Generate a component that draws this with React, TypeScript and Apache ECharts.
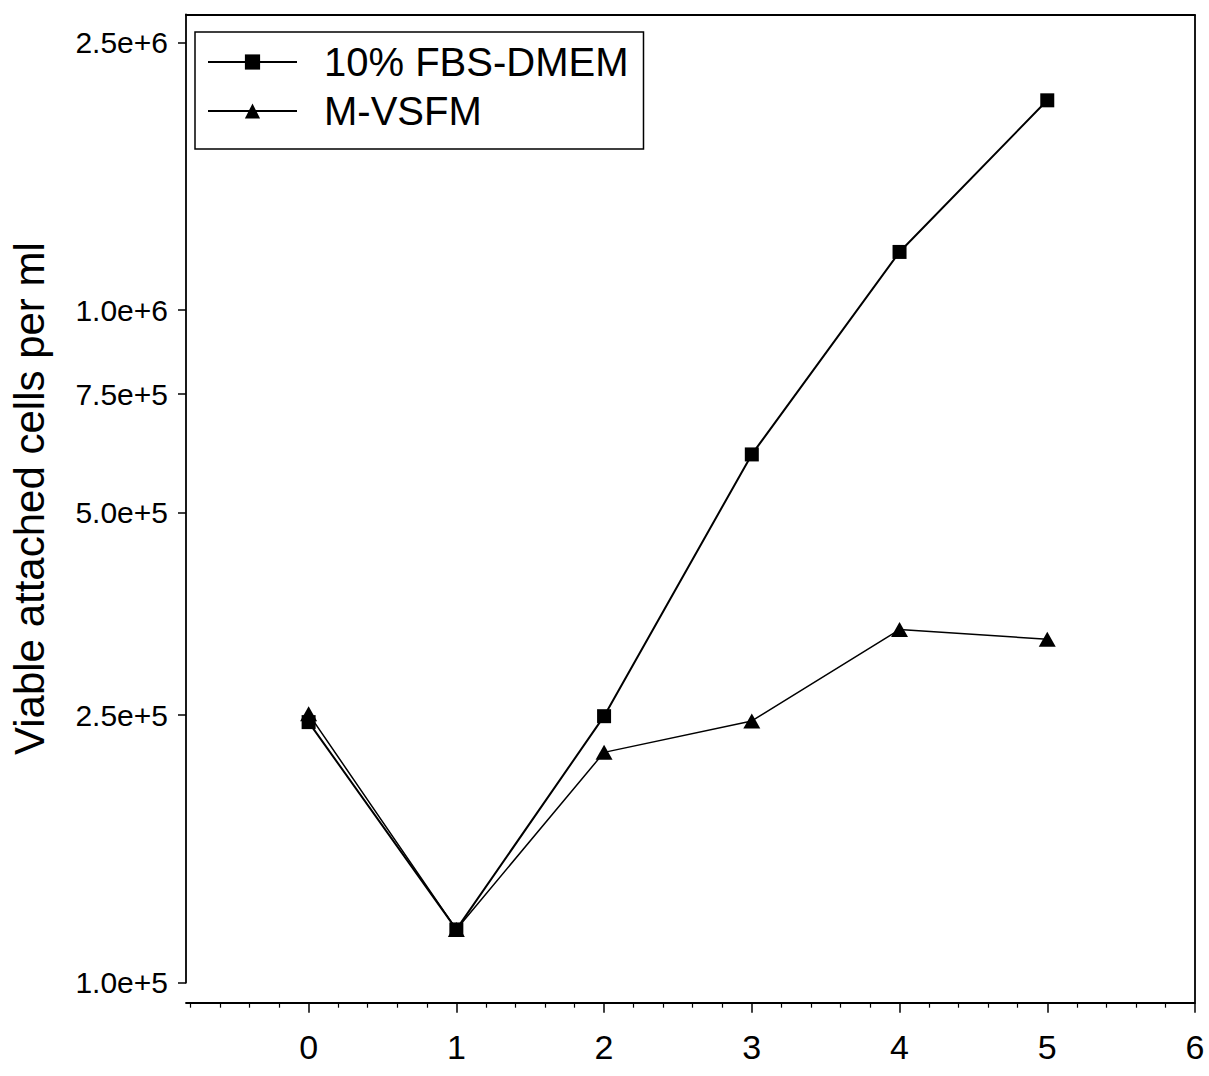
import React, { useEffect, useRef } from "react";
import * as echarts from "echarts";

// Culture day (x) and viable attached cell counts per ml (y, log scale)
const days = [0, 1, 2, 3, 4, 5];
const fbsDmem = [2.44e5, 1.2e5, 2.49e5, 6.1e5, 1.22e6, 2.05e6];
const mVsfm = [2.51e5, 1.2e5, 2.2e5, 2.45e5, 3.35e5, 3.24e5];

const seriesNames = ["10% FBS-DMEM", "M-VSFM"];
const yTickValues = [1e5, 2.5e5, 5e5, 7.5e5, 1e6, 2.5e6];
const xTickValues = [0, 1, 2, 3, 4, 5, 6];
const yAxisTitle = "Viable attached cells per ml";

const X_MIN = -0.83;
const X_MAX = 6;
const Y_MIN = 1e5;
const Y_MAX = 2.75e6;
const X_AXIS_OFFSET = 20;

const FONT = "'Liberation Sans', Arial, Helvetica, sans-serif";

// minor ticks every 0.2 between the integer ticks
const xMinorValues: number[] = [];
for (let i = -4; i <= 29; i++) {
  if (i % 5 !== 0) xMinorValues.push(Math.round(i * 2) / 10);
}

const sci = (v: number) => {
  const e = Math.floor(Math.log10(v) + 1e-9);
  const m = v / Math.pow(10, e);
  return `${m.toFixed(1)}e+${e}`;
};

export default function App() {
  const ref = useRef<HTMLDivElement>(null);

  useEffect(() => {
    if (!ref.current) return;
    const chart = echarts.init(ref.current, null, { renderer: "svg" });
    const black = "#000";

    chart.setOption({
      animation: false,
      backgroundColor: "#fff",
      grid: { left: 184, right: 14, top: 14.5, bottom: 93.3, containLabel: false },
      legend: {
        left: 195,
        top: 32,
        orient: "vertical",
        data: seriesNames,
        itemWidth: 89,
        itemHeight: 19,
        itemGap: 9,
        borderColor: black,
        borderWidth: 1.5,
        padding: [10, 15, 18, 12],
        backgroundColor: "#fff",
        textStyle: {
          fontFamily: FONT,
          fontSize: 40,
          lineHeight: 40,
          color: black,
          padding: [0, 0, 0, 22],
        },
      },
      xAxis: [
        {
          type: "value",
          min: X_MIN,
          max: X_MAX,
          position: "bottom",
          offset: X_AXIS_OFFSET,
          splitLine: { show: false },
          axisLine: { show: true, onZero: false, lineStyle: { color: black, width: 1.8 } },
          axisTick: {
            show: true,
            customValues: xTickValues,
            length: 10,
            lineStyle: { color: black, width: 1.5 },
          },
          axisLabel: {
            customValues: xTickValues,
            margin: 27,
            fontFamily: FONT,
            fontSize: 34,
            color: black,
            formatter: (v: number) => String(v),
          },
        },
        {
          // short minor ticks along the same bottom axis
          type: "value",
          min: X_MIN,
          max: X_MAX,
          position: "bottom",
          offset: X_AXIS_OFFSET,
          splitLine: { show: false },
          axisLine: { show: false, onZero: false },
          axisTick: {
            show: true,
            customValues: xMinorValues,
            length: 5,
            lineStyle: { color: black, width: 1.2 },
          },
          axisLabel: { show: false },
        },
        {
          // top frame line
          type: "value",
          min: X_MIN,
          max: X_MAX,
          position: "top",
          splitLine: { show: false },
          axisLine: { show: true, onZero: false, lineStyle: { color: black, width: 1.8 } },
          axisTick: { show: false },
          axisLabel: { show: false },
        },
      ],
      yAxis: [
        {
          type: "log",
          logBase: 10,
          min: Y_MIN,
          max: Y_MAX,
          position: "left",
          splitLine: { show: false },
          axisLine: { show: true, onZero: false, lineStyle: { color: black, width: 1.8 } },
          axisTick: {
            show: true,
            customValues: yTickValues,
            length: 8,
            lineStyle: { color: black, width: 1.5 },
          },
          axisLabel: {
            customValues: yTickValues,
            margin: 18,
            fontFamily: FONT,
            fontSize: 30,
            color: black,
            formatter: (v: number) => sci(v),
          },
          name: yAxisTitle,
          nameLocation: "middle",
          nameRotate: 90,
          nameGap: 136,
          nameTextStyle: { fontFamily: FONT, fontSize: 42, color: black },
        },
      ],
      series: [
        {
          name: seriesNames[0],
          type: "line",
          xAxisIndex: 0,
          yAxisIndex: 0,
          data: days.map((d, i) => [d, fbsDmem[i]]),
          symbol: "rect",
          symbolSize: 14,
          lineStyle: { color: black, width: 2 },
          itemStyle: { color: black },
          z: 3,
        },
        {
          name: seriesNames[1],
          type: "line",
          xAxisIndex: 0,
          yAxisIndex: 0,
          data: days.map((d, i) => [d, mVsfm[i]]),
          symbol: "triangle",
          symbolSize: [17, 15],
          lineStyle: { color: black, width: 1.5 },
          itemStyle: { color: black },
          z: 2,
        },
      ],
    });

    // right frame line, from the top of the plot down to the offset x axis
    const xRight = chart.convertToPixel({ xAxisIndex: 0 }, X_MAX) as number;
    const yTop = chart.convertToPixel({ yAxisIndex: 0 }, Y_MAX) as number;
    const yBottom = (chart.convertToPixel({ yAxisIndex: 0 }, Y_MIN) as number) + X_AXIS_OFFSET;
    chart.setOption({
      graphic: [
        {
          type: "line",
          shape: { x1: xRight, y1: yTop, x2: xRight, y2: yBottom },
          style: { stroke: black, lineWidth: 1.8 },
          z: 10,
        },
      ],
    });

    return () => chart.dispose();
  }, []);

  return (
    <div
      ref={ref}
      style={{ position: "fixed", left: 0, top: 0, width: 1209, height: 1076, background: "#fff" }}
    />
  );
}
